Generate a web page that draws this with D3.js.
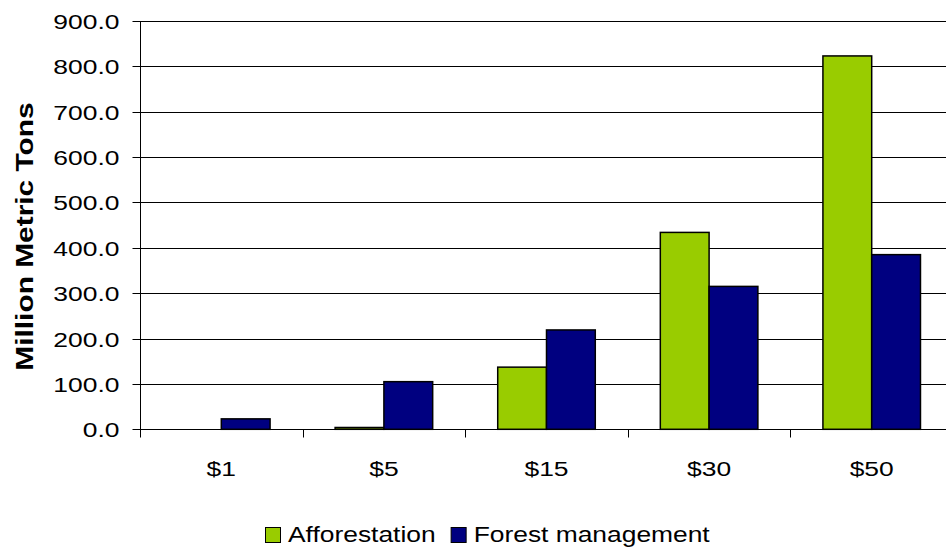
<!DOCTYPE html>
<html>
<head>
<meta charset="utf-8">
<script src="https://cdn.jsdelivr.net/npm/d3@7"></script>
<style>
  body { margin: 0; background: #fff; }
  svg { display: block; font-family: "Liberation Sans", Arial, sans-serif; }
</style>
</head>
<body>
<div id="chart"></div>
<script>
// chart data
const categories = ["$1", "$5", "$15", "$30", "$50"];
const seriesNames = ["Afforestation", "Forest management"];
const afforestation = [0, 4, 137, 434, 823];
const forestManagement = [23, 105, 219, 315, 385];
const yTicks = [0, 100, 200, 300, 400, 500, 600, 700, 800, 900];
const colors = ["#99cc00", "#000080"];

let margin = { top: 21, left: 140, right: 0, bottom: 118 },
  width = 813,
  height = 547 - margin.top - margin.bottom + 0.3;

// the original text is drawn wider than Arial, so stretch it a bit
const stretch = 1.26;

let svg = d3.select("#chart")
  .append("svg")
  .attr("width", 946)
  .attr("height", 547);

let g = svg.append("g")
  .attr("transform", "translate(" + margin.left + "," + margin.top + ")");

let xScale = d3.scaleBand()
  .domain(categories)
  .range([0, width]);

let xInner = d3.scaleBand()
  .domain(seriesNames)
  .range([xScale.bandwidth() * 0.2, xScale.bandwidth() * 0.8]);

let yScale = d3.scaleLinear()
  .domain([0, 900])
  .range([height, 0]);

// horizontal gridlines
g.selectAll(".grid")
  .data(yTicks)
  .enter().append("line")
  .attr("class", "grid")
  .attr("x1", 0)
  .attr("x2", width)
  .attr("y1", d => Math.round(yScale(d)) + 0.5)
  .attr("y2", d => Math.round(yScale(d)) + 0.5)
  .attr("stroke", "#000")
  .attr("stroke-width", 1);

// Y axis
let yAxis = g.append("g")
  .attr("transform", "translate(0.5,0)")
  .call(d3.axisLeft(yScale).tickValues(yTicks).tickFormat(d3.format(".1f")).tickSize(8));
yAxis.select(".domain").attr("stroke", "#000").attr("d", "M0," + yScale(900) + "V" + height);
yAxis.selectAll(".tick line").attr("stroke", "#000");
yAxis.selectAll(".tick text")
  .attr("x", null).attr("dy", null)
  .attr("y", 7.5)
  .attr("transform", "translate(-21,0) scale(" + stretch + ",1)")
  .style("font-size", "21px").attr("fill", "#000");
yAxis.selectAll(".tick").attr("transform", d => "translate(0," + (Math.round(yScale(d)) + 0.5) + ")");

// X axis: ticks at category boundaries
let xAxisG = g.append("g")
  .attr("transform", "translate(0," + (Math.round(height) + 0.5) + ")");
xAxisG.append("line")
  .attr("x1", 0).attr("x2", width)
  .attr("stroke", "#000");
xAxisG.selectAll(".xtick")
  .data(categories)
  .enter().append("line")
  .attr("x1", d => Math.round(xScale(d)) + 0.5)
  .attr("x2", d => Math.round(xScale(d)) + 0.5)
  .attr("y1", 0).attr("y2", 8)
  .attr("stroke", "#000");
xAxisG.selectAll(".xlabel")
  .data(categories)
  .enter().append("text")
  .attr("transform", d => "translate(" + (xScale(d) + xScale.bandwidth() / 2) + ",46) scale(" + stretch + ",1)")
  .attr("text-anchor", "middle")
  .style("font-size", "21px")
  .text(d => d);

// bars
let rows = categories.map((c, i) => ({
  cat: c,
  values: [afforestation[i], forestManagement[i]]
}));

let groups = g.selectAll(".cat")
  .data(rows)
  .enter().append("g")
  .attr("transform", d => "translate(" + xScale(d.cat) + ",0)");

groups.selectAll("rect")
  .data(d => d.values.map((v, j) => ({ name: seriesNames[j], v: v, j: j })))
  .enter().append("rect")
  .filter(d => d.v > 0)
  .attr("x", d => xInner(d.name))
  .attr("width", xInner.bandwidth())
  .attr("y", d => yScale(d.v))
  .attr("height", d => height - yScale(d.v))
  .attr("fill", d => colors[d.j])
  .attr("stroke", "#000")
  .attr("stroke-width", 1.5);

// Y label
svg.append("text")
  .attr("transform", "translate(33,236.5) rotate(-90) scale(1.3,1)")
  .attr("text-anchor", "middle")
  .style("font-size", "23px")
  .style("font-weight", "bold")
  .text("Million Metric Tons");

// legend
let legend = svg.append("g").attr("transform", "translate(265,527)");
let lx = 0;
seriesNames.forEach((name, i) => {
  legend.append("rect")
    .attr("x", lx + 0.5).attr("y", 0.5)
    .attr("width", 15).attr("height", 15)
    .attr("fill", colors[i])
    .attr("stroke", "#000");
  let t = legend.append("text")
    .attr("transform", "translate(" + (lx + 23) + ",15) scale(1.2,1)")
    .style("font-size", "22px")
    .text(name);
  lx += 23 + t.node().getComputedTextLength() * 1.2 + 15;
});
</script>
</body>
</html>
